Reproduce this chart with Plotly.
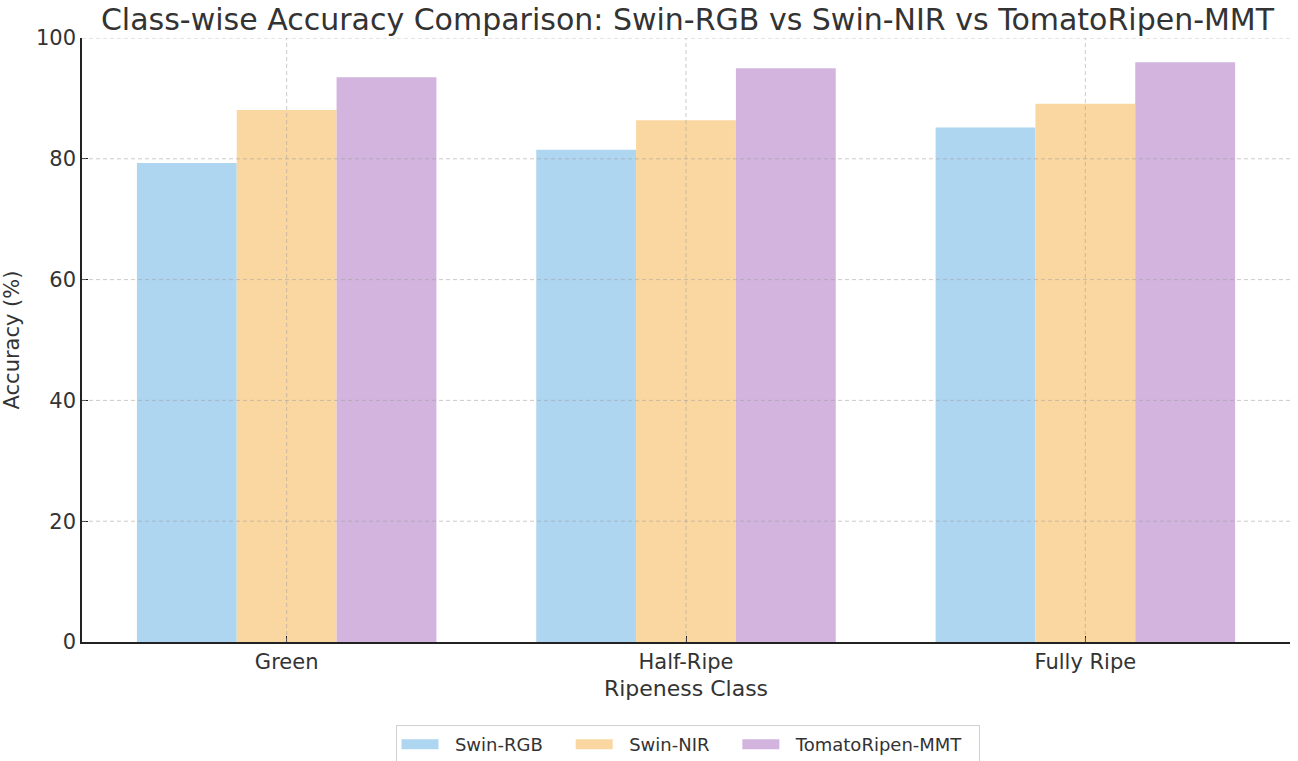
import plotly.graph_objects as go

categories = ["Green", "Half-Ripe", "Fully Ripe"]
swin_rgb = [79.3, 81.5, 85.2]
swin_nir = [88.1, 86.4, 89.1]
mmt = [93.5, 95.0, 96.0]
series_names = ["Swin-RGB", "Swin-NIR", "TomatoRipen-MMT"]
colors = ["#AED6F1", "#FAD7A0", "#D2B4DE"]
yticks = [0, 20, 40, 60, 80, 100]

FONT = "DejaVu Sans"
TXT = "#333333"
GRID = "rgba(160,160,160,0.55)"
NB = "\u00a0"

W, H = 1298, 761

fig = go.Figure()
for name, vals, col in zip(series_names, [swin_rgb, swin_nir, mmt], colors):
    fig.add_trace(go.Bar(
        x=categories, y=vals, name=name, showlegend=False,
        marker=dict(color=col, line=dict(width=0)),
    ))
# legend entries drawn as wide swatches
for i, (name, col) in enumerate(zip(series_names, colors)):
    label = NB * 2 + name + (NB * 4 if i < len(series_names) - 1 else NB * 2)
    fig.add_trace(go.Scatter(
        x=[None], y=[None], mode="lines", name=label,
        line=dict(color=col, width=13),
    ))

# dashed grid drawn on top of bars (as in the reference)
for yv in yticks[1:]:
    fig.add_shape(type="line", xref="paper", x0=0, x1=1, yref="y", y0=yv, y1=yv,
                  line=dict(color=GRID, width=1, dash="4px,3px"), layer="above")
for c in categories:
    fig.add_shape(type="line", xref="x", x0=c, x1=c, yref="paper", y0=0, y1=1,
                  line=dict(color=GRID, width=1, dash="4px,3px"), layer="above")

fig.update_layout(
    width=W, height=H,
    autosize=False,
    barmode="group", bargap=0.25, bargroupgap=0,
    plot_bgcolor="white", paper_bgcolor="white",
    margin=dict(l=82, r=8, t=38, b=119, autoexpand=False),
    font=dict(family=FONT, color=TXT, size=21),
    title=dict(
        text="Class-wise Accuracy Comparison: Swin-RGB vs Swin-NIR vs TomatoRipen-MMT",
        font=dict(family=FONT, size=30, color=TXT),
        x=687.5 / W, xanchor="center",
        y=1 - 19 / H, yanchor="middle", yref="container",
    ),
    xaxis=dict(
        title=dict(text="Ripeness Class", font=dict(size=22), standoff=8),
        range=[-0.5125, 2.5125],
        showline=True, linecolor="#222222", linewidth=1.5,
        ticks="inside", ticklen=6, tickcolor="#222222",
        tickfont=dict(size=21),
        showgrid=False, zeroline=False, automargin=False,
        layer="above traces",
    ),
    yaxis=dict(
        title=dict(text="Accuracy (%)", font=dict(size=21), standoff=19),
        range=[0, 100],
        tickvals=yticks,
        showline=True, linecolor="#222222", linewidth=1.5,
        ticks="inside", ticklen=6, tickcolor="#222222",
        tickfont=dict(size=21),
        showgrid=False, zeroline=False, automargin=False,
        layer="above traces",
    ),
    legend=dict(
        orientation="h",
        x=687.5 / W, xanchor="center", xref="container",
        y=1 - 725 / H, yanchor="top", yref="container",
        bordercolor="#d0d0d0", borderwidth=1, bgcolor="white",
        font=dict(family=FONT, size=18, color=TXT),
        itemwidth=37,
    ),
)

fig.write_html("out.html", config={"displayModeBar": False},
               post_script="document.body.style.margin='0';")
